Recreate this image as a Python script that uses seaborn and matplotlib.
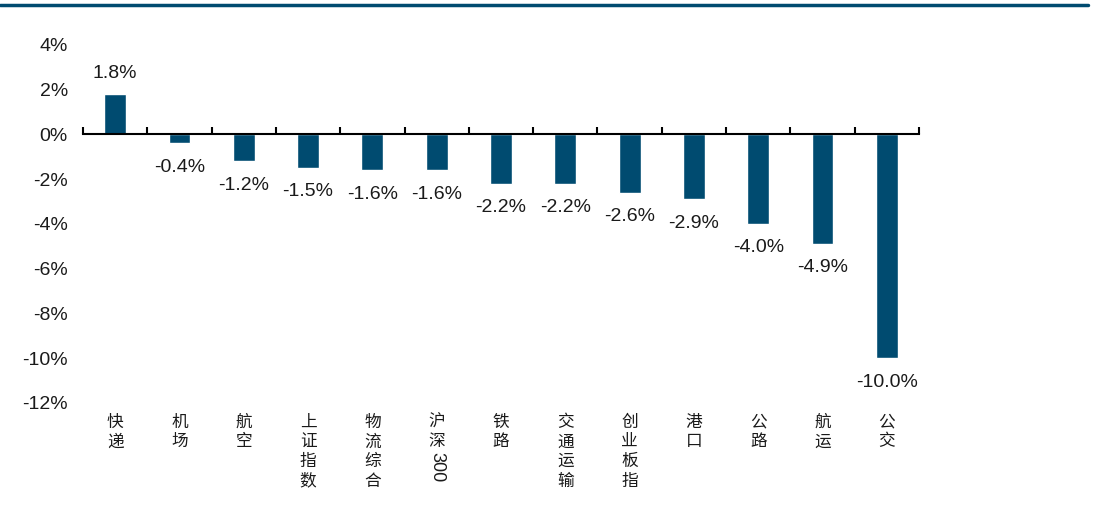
import matplotlib
matplotlib.use("Agg")
import numpy as np
import pandas as pd
import matplotlib.pyplot as plt
from matplotlib.lines import Line2D
import seaborn as sns

# data
categories = ["快递", "机场", "航空", "上证指数", "物流综合", "沪深300", "铁路",
              "交通运输", "创业板指", "港口", "公路", "航运", "公交"]
changes = [1.8, -0.4, -1.2, -1.5, -1.6, -1.6, -2.2, -2.2, -2.6, -2.9, -4.0, -4.9, -10.0]
y_ticks = [-12, -10, -8, -6, -4, -2, 0, 2, 4]

BAR_COLOR = "#004B70"

sns.set_theme(style="white")
plt.rcParams["font.family"] = ["Liberation Sans", "Noto Sans CJK SC"]

df = pd.DataFrame({"cat": categories, "chg": changes})

fig = plt.figure(figsize=(10.97, 5.05), dpi=100)
ax = fig.add_axes([0.0757, 0.202, 0.762, 0.709])

sns.barplot(data=df, x="cat", y="chg", color=BAR_COLOR, saturation=1,
            width=0.34, ax=ax)

ax.set_xlim(-0.5, len(categories) - 0.5)
ax.set_ylim(-12, 4)
ax.set_yticks(y_ticks)
ax.set_yticklabels([f"{v}%" for v in y_ticks])
ax.set_xlabel("")
ax.set_ylabel("")

# axis styling: only a zero line with tick marks between categories
for side in ["left", "right", "top"]:
    ax.spines[side].set_visible(False)
ax.spines["bottom"].set_position(("data", 0))
ax.spines["bottom"].set_color("black")
ax.spines["bottom"].set_linewidth(1.5)
ax.set_xticks([])
ax.set_xticks(np.arange(-0.5, len(categories), 1), minor=True)
ax.tick_params(axis="x", which="minor", direction="in", length=5, width=1.5,
               color="black", bottom=True, labelbottom=False)
ax.tick_params(axis="y", length=0, pad=11, labelsize=14, labelcolor="#1a1a1a")

# value labels
for i, v in enumerate(changes):
    if v >= 0:
        ax.annotate(f"{v:.1f}%", xy=(i, v), xytext=(0, 9), textcoords="offset points",
                    ha="center", va="bottom", fontsize=14, color="#1a1a1a")
    else:
        ax.annotate(f"{v:.1f}%", xy=(i, v), xytext=(0, -11), textcoords="offset points",
                    ha="center", va="top", fontsize=14, color="#1a1a1a")

# vertical category labels under the plot
trans = ax.get_xaxis_transform()
for i, name in enumerate(categories):
    chars = name.rstrip("0123456789")
    digits = name[len(chars):]
    ax.text(i, -0.03, "\n".join(chars), transform=trans, ha="center", va="top",
            fontsize=12, family=["Noto Sans CJK SC"], color="#1a1a1a", linespacing=1.2)
    if digits:
        ax.text(i, -0.03 - 0.054 * len(chars), digits, transform=trans,
                ha="center", va="top", rotation=270, fontsize=13, color="#1a1a1a")

# dark line across the top of the figure
fig.add_artist(Line2D([0, 0.992], [0.99, 0.99], transform=fig.transFigure,
                      color=BAR_COLOR, linewidth=2.5))

fig.savefig("out.png", dpi=100, facecolor="white")
